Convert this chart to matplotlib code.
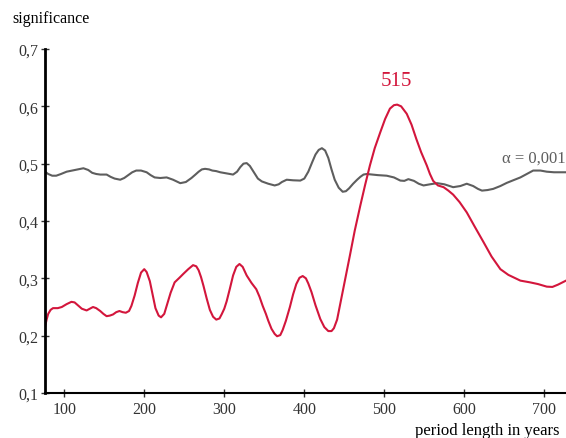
import matplotlib.pyplot as plt

# significance curve (red)
red_years = [76, 78, 80, 83, 86, 92, 97, 103, 109, 113, 117, 122, 128, 132, 136,
             140, 145, 149, 153, 157, 161, 165, 169, 173, 177, 181, 184, 188,
             192, 196, 200, 203, 207, 211, 214, 218, 221, 225, 228, 233, 238,
             244, 249, 255, 261, 265, 268, 271, 274, 278, 282, 286, 290, 294,
             297, 300, 303, 307, 311, 315, 319, 323, 328, 334, 340, 344, 348,
             352, 355, 359, 363, 366, 370, 373, 377, 382, 386, 390, 394, 398,
             402, 405, 409, 414, 420, 425, 430, 434, 437, 441, 445, 451, 457,
             463, 470, 476, 482, 488, 495, 501, 507, 512, 516, 521, 528, 534,
             540, 546, 553, 557, 561, 567, 574, 580, 586, 594, 603, 613, 624,
             634, 645, 655, 670, 682, 692, 703, 710, 717, 727]
red_vals = [0.215, 0.228, 0.238, 0.245, 0.248, 0.248, 0.250, 0.255, 0.259, 0.258,
            0.253, 0.247, 0.244, 0.247, 0.250, 0.248, 0.243, 0.238, 0.234, 0.235,
            0.237, 0.241, 0.243, 0.241, 0.240, 0.243, 0.252, 0.270, 0.292, 0.310,
            0.316, 0.311, 0.295, 0.268, 0.248, 0.235, 0.232, 0.238, 0.252, 0.275,
            0.293, 0.301, 0.308, 0.316, 0.323, 0.321, 0.314, 0.302, 0.287, 0.265,
            0.245, 0.233, 0.228, 0.230, 0.238, 0.247, 0.260, 0.282, 0.305, 0.320,
            0.325, 0.320, 0.305, 0.292, 0.281, 0.268, 0.252, 0.238, 0.226, 0.212,
            0.203, 0.199, 0.201, 0.210, 0.226, 0.250, 0.272, 0.290, 0.301, 0.304,
            0.300, 0.291, 0.276, 0.253, 0.229, 0.215, 0.208, 0.208, 0.213, 0.228,
            0.256, 0.298, 0.340, 0.383, 0.427, 0.463, 0.497, 0.527, 0.555, 0.578,
            0.596, 0.602, 0.603, 0.600, 0.587, 0.568, 0.543, 0.520, 0.497, 0.482,
            0.470, 0.462, 0.459, 0.453, 0.446, 0.433, 0.415, 0.390, 0.363, 0.338,
            0.316, 0.306, 0.296, 0.293, 0.290, 0.2855, 0.285, 0.289, 0.296]

# alpha = 0.001 threshold (gray)
gray_years = [76, 80, 85, 90, 96, 103, 110, 117, 124, 130, 135, 140, 145, 153,
              158, 163, 170, 175, 180, 185, 190, 196, 203, 208, 213, 220, 228,
              236, 245, 252, 259, 264, 268, 272, 276, 281, 285, 290, 295, 303,
              311, 316, 320, 324, 328, 332, 337, 342, 347, 355, 363, 368, 372,
              378, 386, 395, 400, 405, 410, 414, 418, 422, 426, 430, 434, 438,
              443, 448, 452, 456, 461, 466, 470, 474, 478, 485, 492, 503, 512,
              520, 525, 530, 537, 543, 549, 557, 566, 575, 586, 595, 603, 611,
              617, 622, 629, 636, 645, 653, 661, 670, 678, 686, 695, 703, 712,
              720, 727]
gray_vals = [0.486, 0.482, 0.479, 0.479, 0.482, 0.486, 0.488, 0.490, 0.492, 0.489,
             0.484, 0.482, 0.481, 0.481, 0.477, 0.474, 0.472, 0.475, 0.480, 0.485,
             0.488, 0.488, 0.485, 0.480, 0.476, 0.475, 0.476, 0.472, 0.466, 0.468,
             0.475, 0.481, 0.486, 0.490, 0.491, 0.490, 0.488, 0.487, 0.485, 0.483,
             0.481, 0.486, 0.494, 0.500, 0.501, 0.496, 0.485, 0.474, 0.469, 0.465,
             0.462, 0.464, 0.468, 0.472, 0.471, 0.4705, 0.474, 0.486, 0.503, 0.516,
             0.524, 0.527, 0.523, 0.510, 0.490, 0.472, 0.458, 0.451, 0.452, 0.457,
             0.465, 0.472, 0.477, 0.481, 0.482, 0.481, 0.480, 0.479, 0.476, 0.4705,
             0.470, 0.473, 0.470, 0.465, 0.462, 0.464, 0.466, 0.464, 0.459, 0.461,
             0.465, 0.461, 0.456, 0.453, 0.454, 0.456, 0.461, 0.4665, 0.471, 0.476,
             0.482, 0.488, 0.488, 0.486, 0.485, 0.485, 0.485]

xticks = [100, 200, 300, 400, 500, 600, 700]
yticks = [0.1, 0.2, 0.3, 0.4, 0.5, 0.6, 0.7]
ylabels = ["0,1", "0,2", "0,3", "0,4", "0,5", "0,6", "0,7"]

plt.rcParams['font.family'] = ['Liberation Serif', 'DejaVu Serif']

fig = plt.figure(figsize=(5.66, 4.39), dpi=100)
ax = fig.add_axes([45/566, 45/439, 521/566, 344/439])

ax.plot(gray_years, gray_vals, color="#5e5e5e", lw=1.5, solid_joinstyle='round')
ax.plot(red_years, red_vals, color="#d3163c", lw=1.5, solid_joinstyle='round')

ax.set_xlim(76, 727)
ax.set_ylim(0.1, 0.7)
ax.set_xticks(xticks)
ax.set_yticks(yticks)
ax.set_yticklabels(ylabels)
ax.tick_params(axis='both', direction='inout', length=6, width=1,
               labelsize=11.5, colors='#333333')
ax.tick_params(axis='y', pad=2)
ax.tick_params(axis='x', pad=3)

for s in ['top', 'right']:
    ax.spines[s].set_visible(False)
ax.spines['left'].set_linewidth(2)
ax.spines['bottom'].set_linewidth(1.5)

fig.text(12/566, 1 - 19/439, "significance", fontsize=11.5, va='center', ha='left')
fig.text(415/566, 1 - 431/439, "period length in years", fontsize=12, va='center', ha='left')

ax.text(515, 0.645, "515", color="#d3163c", fontsize=15, ha='center', va='center')
ax.text(727, 0.510, "α = 0,001", color="#5e5e5e", fontsize=12, ha='right', va='center')

fig.savefig("out.png", dpi=100)
